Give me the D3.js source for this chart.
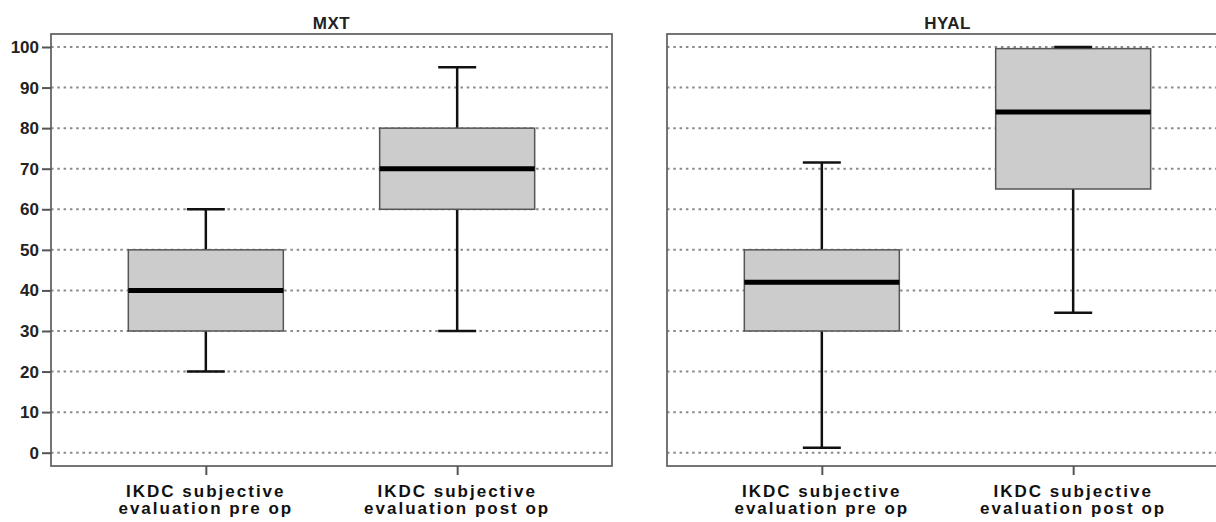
<!DOCTYPE html>
<html>
<head>
<meta charset="utf-8">
<script src="https://cdn.jsdelivr.net/npm/d3@7"></script>
<style>
  html, body { margin: 0; padding: 0; background: #fff; }
  svg { display: block; font-family: "Liberation Sans", Arial, sans-serif; }
</style>
</head>
<body>
<div id="chart"></div>
<script>
// data
const panels = ['MXT', 'HYAL'];
const categories = ['pre', 'post'];
const categoryLines = [
  ['IKDC subjective', 'evaluation pre op'],
  ['IKDC subjective', 'evaluation post op']
];
const yTicks = [0, 10, 20, 30, 40, 50, 60, 70, 80, 90, 100];

const mxtMin = [20, 30];
const mxtQ1 = [30, 60];
const mxtMedian = [40, 70];
const mxtQ3 = [50, 80];
const mxtMax = [60, 95];

const hyalMin = [1.2, 34.5];
const hyalQ1 = [30, 65];
const hyalMedian = [42, 84];
const hyalQ3 = [50, 99.6];
const hyalMax = [71.5, 100];

const panelStats = [
  { min: mxtMin, q1: mxtQ1, median: mxtMedian, q3: mxtQ3, max: mxtMax },
  { min: hyalMin, q1: hyalQ1, median: hyalMedian, q3: hyalQ3, max: hyalMax }
];

const width = 1216;
const height = 522;
const frameTop = 34;
const frameBottom = 466;
const panelRanges = [[51, 612], [667, 1228]];
const boxWidth = 155;
const capWidth = 38;

const svg = d3.select('#chart')
  .append('svg')
  .attr('width', width)
  .attr('height', height);

svg.append('rect').attr('width', width).attr('height', height).attr('fill', '#fff');

const y = d3.scaleLinear().domain([0, 100]).range([452.7, 47]);

panels.forEach((name, p) => {
  const [left, right] = panelRanges[p];
  const stats = panelStats[p];
  const x = d3.scalePoint()
    .domain(categories)
    .range([left, right])
    .padding(0.616);

  const g = svg.append('g');

  // dotted gridlines
  g.append('g')
    .selectAll('line')
    .data(yTicks)
    .join('line')
    .attr('x1', left)
    .attr('x2', right)
    .attr('y1', d => y(d))
    .attr('y2', d => y(d))
    .attr('stroke', '#8a8a8a')
    .attr('stroke-width', 2)
    .attr('stroke-dasharray', '2.5,3.8');

  // frame
  g.append('rect')
    .attr('x', left)
    .attr('y', frameTop)
    .attr('width', right - left)
    .attr('height', frameBottom - frameTop)
    .attr('fill', 'none')
    .attr('stroke', '#666')
    .attr('stroke-width', 1.8);

  // title
  svg.append('text')
    .attr('x', (left + right) / 2)
    .attr('y', 29)
    .attr('text-anchor', 'middle')
    .attr('font-size', 17)
    .attr('font-weight', 'bold')
    .attr('letter-spacing', 0.5)
    .attr('fill', '#222')
    .text(name);

  // y axis only on the first panel
  if (p === 0) {
    const yAxis = svg.append('g')
      .attr('transform', `translate(${left},0)`)
      .call(d3.axisLeft(y).tickValues(yTicks).tickSize(9).tickPadding(3));
    yAxis.select('.domain').remove();
    yAxis.selectAll('line').attr('stroke', '#555').attr('stroke-width', 2);
    yAxis.selectAll('text')
      .attr('font-size', 17)
      .attr('font-weight', 'bold')
      .attr('fill', '#222')
      .attr('font-family', '"Liberation Sans", Arial, sans-serif');
  }

  // x axis ticks and two-line labels
  const xAxis = svg.append('g')
    .attr('transform', `translate(0,${frameBottom})`)
    .call(d3.axisBottom(x).tickSize(9).tickFormat(''));
  xAxis.select('.domain').remove();
  xAxis.selectAll('line').attr('stroke', '#555').attr('stroke-width', 2);

  svg.append('g')
    .selectAll('text')
    .data(categories)
    .join('text')
    .attr('x', d => x(d))
    .attr('y', 497)
    .attr('text-anchor', 'middle')
    .attr('font-size', 17)
    .attr('font-weight', 'bold')
    .attr('letter-spacing', 2)
    .attr('fill', '#111')
    .each(function (d, i) {
      const t = d3.select(this);
      categoryLines[i].forEach((line, k) => {
        t.append('tspan')
          .attr('x', x(d))
          .attr('dy', k === 0 ? 0 : 17)
          .text(line);
      });
    });

  // whiskers
  const boxes = g.append('g')
    .selectAll('g')
    .data(categories)
    .join('g');

  boxes.append('line')
    .attr('x1', d => x(d))
    .attr('x2', d => x(d))
    .attr('y1', (d, i) => y(stats.max[i]))
    .attr('y2', (d, i) => y(stats.min[i]))
    .attr('stroke', '#111')
    .attr('stroke-width', 2.5);

  boxes.append('rect')
    .attr('x', d => x(d) - boxWidth / 2)
    .attr('y', (d, i) => y(stats.q3[i]))
    .attr('width', boxWidth)
    .attr('height', (d, i) => y(stats.q1[i]) - y(stats.q3[i]))
    .attr('fill', '#cccccc')
    .attr('stroke', '#555')
    .attr('stroke-width', 1.5);

  boxes.append('line')
    .attr('x1', d => x(d) - boxWidth / 2)
    .attr('x2', d => x(d) + boxWidth / 2)
    .attr('y1', (d, i) => y(stats.median[i]))
    .attr('y2', (d, i) => y(stats.median[i]))
    .attr('stroke', '#000')
    .attr('stroke-width', 5);

  ['min', 'max'].forEach(key => {
    boxes.append('line')
      .attr('x1', d => x(d) - capWidth / 2)
      .attr('x2', d => x(d) + capWidth / 2)
      .attr('y1', (d, i) => y(stats[key][i]))
      .attr('y2', (d, i) => y(stats[key][i]))
      .attr('stroke', '#111')
      .attr('stroke-width', 2.5);
  });
});
</script>
</body>
</html>
